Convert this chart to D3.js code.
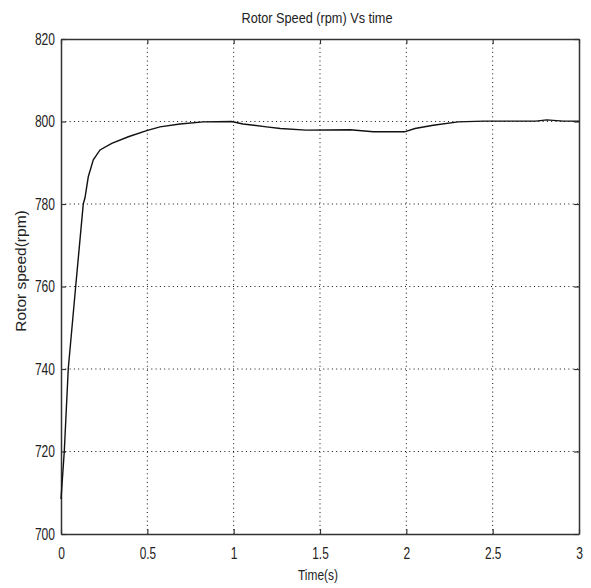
<!DOCTYPE html>
<html>
<head>
<meta charset="utf-8">
<script src="https://cdn.jsdelivr.net/npm/d3@7"></script>
<style>
  body { margin: 0; background: #fff; }
  svg { display: block; }
  text { font-family: "Liberation Sans", Arial, sans-serif; fill: #222; }
</style>
</head>
<body>
<div id="chart"></div>
<script>
// values
var time = [0, 0.019, 0.042, 0.085, 0.129, 0.139, 0.158, 0.187, 0.226, 0.294, 0.39, 0.496, 0.573, 0.689, 0.824, 0.988, 1.054, 1.19, 1.27, 1.42, 1.674, 1.809, 1.99, 2.05, 2.156, 2.30, 2.446, 2.75, 2.813, 2.909, 3.0];
var speed = [708.5, 720, 740, 760, 780, 781.5, 786.6, 790.7, 793.1, 794.7, 796.3, 797.8, 798.7, 799.4, 799.9, 800, 799.4, 798.7, 798.3, 797.9, 798.0, 797.5, 797.5, 798.3, 799.1, 799.9, 800.1, 800.1, 800.4, 800.1, 800.1];
var xTicks = [0, 0.5, 1, 1.5, 2, 2.5, 3];
var yTicks = [700, 720, 740, 760, 780, 800, 820];

var W = 591, H = 588;
var margin = {top: 39, right: 12, bottom: 54, left: 61};
var width = W - margin.left - margin.right;
var height = H - margin.top - margin.bottom;

var svg = d3.select("#chart").append("svg").attr("width", W).attr("height", H);
var g = svg.append("g").attr("transform", "translate(" + margin.left + "," + margin.top + ")");

var x = d3.scaleLinear().domain([0, 3]).range([0, width]);
var y = d3.scaleLinear().domain([700, 820]).range([height, 0]);

// narrow text like the matlab figure font
function squeeze(sel, charW) {
  sel.each(function () {
    var t = d3.select(this).text();
    var w = 0;
    for (var i = 0; i < t.length; i++) w += (t[i] == "." ? 0.45 : 1) * charW;
    d3.select(this).attr("textLength", w).attr("lengthAdjust", "spacingAndGlyphs");
  });
}

// dotted grid
g.append("g").selectAll("line.gx").data(xTicks.slice(1, -1)).enter().append("line")
  .attr("x1", function (d) { return x(d); }).attr("x2", function (d) { return x(d); })
  .attr("y1", 0).attr("y2", height)
  .attr("stroke", "#111").attr("stroke-width", 1).attr("stroke-dasharray", "1,3.3");
g.append("g").selectAll("line.gy").data(yTicks.slice(1, -1)).enter().append("line")
  .attr("y1", function (d) { return y(d); }).attr("y2", function (d) { return y(d); })
  .attr("x1", 0).attr("x2", width)
  .attr("stroke", "#111").attr("stroke-width", 1).attr("stroke-dasharray", "1,3.3");

// axes, ticks pointing inward
var xAxis = g.append("g").attr("transform", "translate(0," + height + ")")
  .call(d3.axisBottom(x).tickValues(xTicks).tickFormat(d3.format("")).tickSizeInner(-5).tickSizeOuter(0).tickPadding(13));
var yAxis = g.append("g")
  .call(d3.axisLeft(y).tickValues(yTicks).tickFormat(d3.format("")).tickSizeInner(-5).tickSizeOuter(0).tickPadding(6));
g.append("g")
  .call(d3.axisTop(x).tickValues(xTicks).tickFormat("").tickSizeInner(-5).tickSizeOuter(0));
g.append("g").attr("transform", "translate(" + width + ",0)")
  .call(d3.axisRight(y).tickValues(yTicks).tickFormat("").tickSizeInner(-5).tickSizeOuter(0));

g.selectAll(".domain").attr("stroke", "#333").attr("stroke-width", 1.5);
g.selectAll(".tick line").attr("stroke", "#333").attr("stroke-width", 1.2);

xAxis.selectAll("text").attr("font-size", 16.5).attr("fill", "#222").attr("dy", "0.71em").call(squeeze, 6.7);
yAxis.selectAll("text").attr("font-size", 16.5).attr("fill", "#222").call(squeeze, 6.7);

// the speed curve
var line = d3.line()
  .x(function (d, i) { return x(time[i]); })
  .y(function (d) { return y(d); });
g.append("path").datum(speed)
  .attr("d", line)
  .attr("fill", "none").attr("stroke", "#111").attr("stroke-width", 1.4);

// titles
svg.append("text").attr("x", 317).attr("y", 23).attr("text-anchor", "middle")
  .attr("font-size", 14.5).attr("textLength", 151).attr("lengthAdjust", "spacingAndGlyphs")
  .text("Rotor Speed (rpm) Vs time");
svg.append("text").attr("x", 318).attr("y", 580).attr("text-anchor", "middle")
  .attr("font-size", 15).attr("textLength", 40).attr("lengthAdjust", "spacingAndGlyphs")
  .text("Time(s)");
svg.append("text").attr("transform", "translate(26,271) rotate(-90)").attr("text-anchor", "middle")
  .attr("font-size", 15.5)
  .text("Rotor speed(rpm)");
</script>
</body>
</html>
